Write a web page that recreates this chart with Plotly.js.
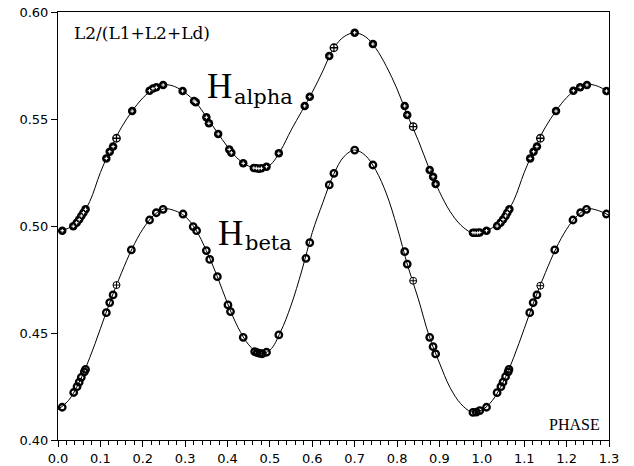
<!DOCTYPE html>
<html>
<head>
<meta charset="utf-8">
<script src="https://cdn.plot.ly/plotly-3.0.1.min.js"></script>
<style>
html,body{margin:0;padding:0;background:#fff;}
#chart{width:634px;height:466px;}
</style>
</head>
<body>
<div id="chart"></div>
<script>
// Model curves
var curvePhase = [0.000,0.025,0.050,0.075,0.100,0.125,0.150,0.175,0.200,0.225,0.250,0.275,0.300,0.325,0.350,0.375,0.400,0.425,0.450,0.475,0.500,0.525,0.550,0.575,0.600,0.625,0.650,0.675,0.700,0.725,0.750,0.775,0.800,0.825,0.850,0.875,0.900,0.925,0.950,0.975,1.000,1.025,1.050,1.075,1.100,1.125,1.150,1.175,1.200,1.225,1.250,1.275,1.300];
var haCurve = [0.4975,0.4990,0.5033,0.5115,0.5250,0.5365,0.5462,0.5537,0.5598,0.5640,0.5660,0.5652,0.5622,0.5578,0.5510,0.5440,0.5370,0.5313,0.5280,0.5268,0.5284,0.5352,0.5448,0.5536,0.5625,0.5725,0.5830,0.5885,0.5903,0.5885,0.5830,0.5745,0.5640,0.5515,0.5400,0.5272,0.5160,0.5068,0.5005,0.4970,0.4972,0.4992,0.5036,0.5118,0.5250,0.5365,0.5462,0.5538,0.5600,0.5642,0.5662,0.5652,0.5625];
var hbCurve = [0.4142,0.4185,0.4270,0.4385,0.4520,0.4658,0.4782,0.4895,0.4985,0.5048,0.5080,0.5072,0.5045,0.4983,0.4885,0.4768,0.4638,0.4525,0.4445,0.4405,0.4420,0.4505,0.4630,0.4790,0.4970,0.5110,0.5240,0.5325,0.5355,0.5330,0.5260,0.5150,0.4995,0.4815,0.4660,0.4490,0.4360,0.4245,0.4170,0.4132,0.4140,0.4185,0.4270,0.4385,0.4520,0.4658,0.4782,0.4895,0.4985,0.5048,0.5080,0.5072,0.5050];

// H-alpha observations
var haPhase = [0.010,0.036,0.044,0.050,0.055,0.060,0.065,0.114,0.122,0.130,0.175,0.216,0.224,0.232,0.248,0.294,0.321,0.325,0.350,0.356,0.378,0.404,0.409,0.437,0.462,0.468,0.474,0.480,0.492,0.521,0.582,0.594,0.640,0.700,0.743,0.818,0.824,0.877,0.885,0.891,0.979,0.984,0.990,0.995,1.011,1.036,1.044,1.050,1.056,1.060,1.065,1.114,1.122,1.130,1.175,1.216,1.232,1.248,1.294];
var haValue = [0.4978,0.4999,0.5015,0.5030,0.5047,0.5062,0.5078,0.5316,0.5347,0.5371,0.5537,0.5632,0.5642,0.5648,0.5659,0.5631,0.5584,0.5578,0.5508,0.5480,0.5430,0.5358,0.5342,0.5293,0.5271,0.5270,0.5268,0.5270,0.5277,0.5340,0.5561,0.5604,0.5794,0.5903,0.5850,0.5561,0.5519,0.5262,0.5230,0.5196,0.4969,0.4968,0.4968,0.4970,0.4978,0.5000,0.5015,0.5030,0.5047,0.5062,0.5078,0.5316,0.5347,0.5371,0.5537,0.5632,0.5648,0.5659,0.5631];
var haOpenPhase = [0.138,0.651,0.838,1.138];
var haOpenValue = [0.5410,0.5833,0.5464,0.5410];

// H-beta observations
var hbPhase = [0.010,0.037,0.045,0.050,0.055,0.062,0.065,0.114,0.122,0.130,0.173,0.216,0.232,0.248,0.295,0.319,0.327,0.350,0.358,0.376,0.401,0.407,0.437,0.464,0.470,0.476,0.482,0.492,0.521,0.585,0.594,0.640,0.651,0.700,0.743,0.818,0.824,0.877,0.885,0.891,0.979,0.987,0.995,1.011,1.036,1.045,1.050,1.056,1.062,1.064,1.113,1.121,1.130,1.172,1.215,1.233,1.247,1.294];
var hbValue = [0.4153,0.4222,0.4249,0.4270,0.4293,0.4318,0.4330,0.4595,0.4642,0.4678,0.4888,0.5028,0.5062,0.5078,0.5056,0.4997,0.4978,0.4885,0.4844,0.4763,0.4631,0.4600,0.4480,0.4413,0.4408,0.4405,0.4403,0.4410,0.4491,0.4849,0.4922,0.5192,0.5246,0.5355,0.5285,0.4880,0.4822,0.4480,0.4436,0.4402,0.4129,0.4130,0.4137,0.4153,0.4221,0.4249,0.4270,0.4296,0.4318,0.4330,0.4595,0.4642,0.4678,0.4888,0.5028,0.5062,0.5078,0.5056];
var hbOpenPhase = [0.138,0.838,1.138];
var hbOpenValue = [0.4724,0.4744,0.4721];

var xTickVals = [0.0,0.1,0.2,0.3,0.4,0.5,0.6,0.7,0.8,0.9,1.0,1.1,1.2,1.3];
var yTickVals = [0.40,0.45,0.50,0.55,0.60];

var traces = [
  {x: curvePhase, y: haCurve, mode: 'lines', line: {color: '#000', width: 1, shape: 'spline', smoothing: 1}},
  {x: curvePhase, y: hbCurve, mode: 'lines', line: {color: '#000', width: 1, shape: 'spline', smoothing: 1}},
  {x: haPhase, y: haValue, mode: 'markers', marker: {symbol: 'circle', size: 8.5, color: '#000', line: {width: 0}}},
  {x: haPhase, y: haValue, mode: 'markers', marker: {symbol: 'cross-thin-open', size: 2.5, color: '#fff', line: {color: '#ddd', width: 1}}},
  {x: haOpenPhase, y: haOpenValue, mode: 'markers', marker: {symbol: 'circle-cross', size: 7.5, color: '#fff', line: {color: '#000', width: 1.3}}},
  {x: hbPhase, y: hbValue, mode: 'markers', marker: {symbol: 'circle-open', size: 6.5, color: '#000', line: {color: '#000', width: 2.3}}},
  {x: hbOpenPhase, y: hbOpenValue, mode: 'markers', marker: {symbol: 'circle-cross', size: 7, color: '#fff', line: {color: '#000', width: 1}}}
];

var layout = {
  width: 634, height: 466,
  margin: {l: 58, r: 25, t: 12, b: 26},
  paper_bgcolor: '#fff', plot_bgcolor: '#fff',
  showlegend: false,
  font: {family: 'DejaVu Sans, sans-serif', size: 13, color: '#000'},
  xaxis: {
    range: [0, 1.3], tickvals: xTickVals, tickformat: '.1f',
    ticks: 'outside', ticklen: 6, tickwidth: 1, tickcolor: '#000',
    minor: {dtick: 0.02, ticks: 'outside', ticklen: 4, tickcolor: '#000', tickwidth: 1, showgrid: false},
    showline: true, linecolor: '#000', linewidth: 1, mirror: true,
    showgrid: false, zeroline: false,
    tickfont: {family: 'DejaVu Sans, sans-serif', size: 13, color: '#000'}
  },
  yaxis: {
    range: [0.40, 0.60], tickvals: yTickVals, tickformat: '.2f',
    ticks: 'outside', ticklen: 6, tickwidth: 1, tickcolor: '#000',
    showline: true, linecolor: '#000', linewidth: 1, mirror: true,
    showgrid: false, zeroline: false,
    tickfont: {family: 'DejaVu Sans, sans-serif', size: 13, color: '#000'}
  },
  annotations: [
    {x: 0.032, y: 0.5902, xref: 'x', yref: 'y', text: 'L2/(L1+L2+Ld)', showarrow: false, xanchor: 'left', yanchor: 'middle', font: {family: 'DejaVu Serif, serif', size: 17, color: '#000'}},
    {x: 0.380, y: 0.5650, xref: 'x', yref: 'y', text: 'H', showarrow: false, xanchor: 'center', yanchor: 'middle', font: {family: 'Liberation Serif, serif', size: 35, color: '#000'}},
    {x: 0.410, y: 0.5605, xref: 'x', yref: 'y', text: 'alpha', showarrow: false, xanchor: 'left', yanchor: 'middle', font: {family: 'DejaVu Serif, serif', size: 21, color: '#000'}},
    {x: 0.406, y: 0.4963, xref: 'x', yref: 'y', text: 'H', showarrow: false, xanchor: 'center', yanchor: 'middle', font: {family: 'Liberation Serif, serif', size: 35, color: '#000'}},
    {x: 0.436, y: 0.4920, xref: 'x', yref: 'y', text: 'beta', showarrow: false, xanchor: 'left', yanchor: 'middle', font: {family: 'DejaVu Serif, serif', size: 21, color: '#000'}},
    {x: 1.283, y: 0.4072, xref: 'x', yref: 'y', text: 'PHASE', showarrow: false, xanchor: 'right', yanchor: 'middle', font: {family: 'Liberation Serif, serif', size: 16, color: '#000'}}
  ]
};

Plotly.newPlot('chart', traces, layout, {staticPlot: true, displayModeBar: false});
</script>
</body>
</html>
